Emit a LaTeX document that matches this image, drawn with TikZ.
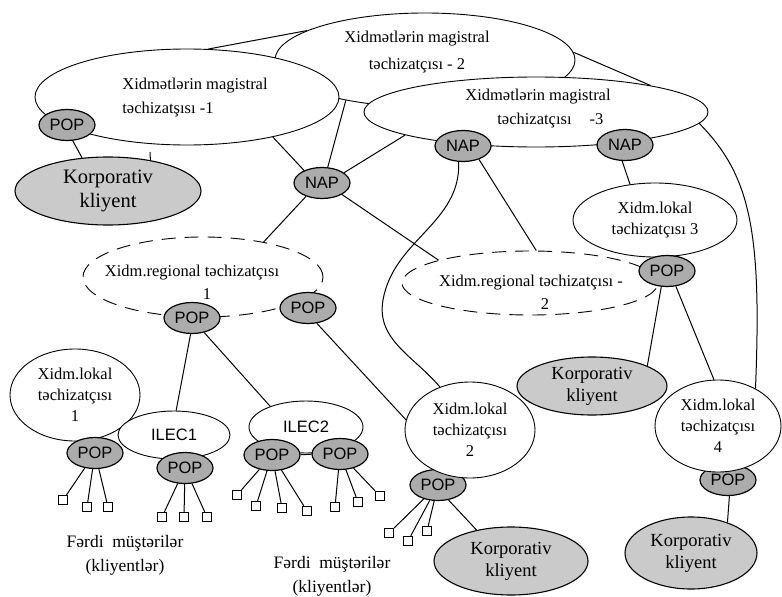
\documentclass[tikz,border=0pt]{standalone}
\usepackage{fontspec}
\setmainfont{Liberation Serif}
\setsansfont{Liberation Sans}
\usetikzlibrary{shapes.geometric, positioning}
\definecolor{popgray}{RGB}{172,172,172}
\definecolor{korpgray}{RGB}{202,202,202}
\tikzset{
  magistral/.style={ellipse, draw=black, line width=0.9pt, fill=white, inner sep=0pt},
  mtext/.style={font=\fontsize{16.5}{24}\selectfont},
  regional/.style={ellipse, draw=black, line width=0.9pt, fill=white, dash pattern=on 14pt off 9pt, inner sep=0pt},
  rtext/.style={align=center, font=\fontsize{16.5}{23}\selectfont},
  lokal/.style={ellipse, draw=black, line width=0.9pt, fill=white, inner sep=0pt, align=center, font=\fontsize{16.5}{21}\selectfont},
  korporativ/.style={ellipse, draw=black, line width=1.1pt, fill=korpgray, inner sep=0pt, align=center, font=\fontsize{18.5}{22}\selectfont},
  popnode/.style={ellipse, draw=black, line width=1.2pt, fill=popgray, minimum width=56pt, minimum height=31pt, inner sep=0pt, font=\sffamily\fontsize{16.5}{16.5}\selectfont},
  ilec/.style={ellipse, draw=black, line width=0.9pt, fill=white, inner sep=0pt, font=\sffamily\fontsize{16.5}{16.5}\selectfont},
  leaf/.style={rectangle, draw=black, line width=1.3pt, fill=white, minimum size=9pt, inner sep=0pt},
  link/.style={draw=black, line width=1pt},
  caption/.style={align=center, font=\fontsize{17.5}{24}\selectfont}
}
\begin{document}
\begin{tikzpicture}[x=1pt, y=-1pt]
\useasboundingbox (0,0) rectangle (782,597);

\node[magistral, minimum width=300pt, minimum height=94pt] (m2) at (425,60) {};
\node[mtext, align=center, font=\fontsize{16.5}{27}\selectfont] (m2txt) at (417,52) {Xidmətlərin magistral\\təchizatçısı - 2};
\node[magistral, minimum width=304pt, minimum height=96pt] (m1) at (187,97) {};
\node[mtext, align=left] (m1txt) at (195,98) {Xidmətlərin magistral\\təchizatşısı -1};
\node[magistral, minimum width=344pt, minimum height=70pt] (m3) at (536,112) {};
\node[mtext, align=left] (m3txt) at (538,109) {Xidmətlərin magistral\\\hspace*{32pt}təchizatçısı\hspace{18pt}-3};

\node[popnode] (popm1) at (67,125) {POP};
\node[popnode] (nap2) at (463,146) {NAP};
\node[popnode] (nap3) at (625,145) {NAP};
\node[korporativ, minimum width=186pt, minimum height=68pt, font=\fontsize{20.5}{24}\selectfont] (kor1) at (108,191) {Korporativ\\kliyent};
\node[popnode] (nap1) at (322,183) {NAP};

\node[regional, minimum width=240pt, minimum height=80pt] (reg1) at (203,277) {};
\node[rtext] (reg1txt) at (192,282) {Xidm.regional təchizatçısı\\\hspace*{30pt}1};
\node[popnode] (popr1) at (192,318) {POP};
\node[popnode] (popr1b) at (308,308) {POP};
\node[regional, minimum width=256pt, minimum height=64pt] (reg2) at (530,283) {};
\node[rtext] (reg2txt) at (531,292) {Xidm.regional təchizatçısı -\\\hspace*{28pt}2};

\node[lokal, minimum width=164pt, minimum height=74pt] (lok3) at (655,220) {Xidm.lokal\\təchizatçısı 3};
\node[popnode] (pop3) at (667,271) {POP};
\node[korporativ, minimum width=150pt, minimum height=58pt] (kor2) at (592,386) {Korporativ\\kliyent};
\node[popnode] (pop4) at (728,480) {POP};
\node[lokal, minimum width=126pt, minimum height=92pt] (lok4) at (718,426) {Xidm.lokal\\təchizatçısı\\4};
\node[korporativ, minimum width=132pt, minimum height=72pt] (kor4) at (691,553) {Korporativ\\kliyent};

\node[popnode] (popl2) at (438,485) {POP};
\node[lokal, minimum width=130pt, minimum height=96pt] (lok2) at (470,430) {Xidm.lokal\\təchizatçısı\\2};
\node[korporativ, minimum width=154pt, minimum height=68pt] (kor3) at (511,561) {Korporativ\\kliyent};

\node[lokal, minimum width=130pt, minimum height=92pt] (lok1) at (75,395) {Xidm.lokal\\təchizatçısı\\1};
\node[popnode] (popl1) at (95,453) {POP};
\node[ilec, minimum width=112pt, minimum height=48pt] (ilec1) at (174,435) {ILEC1};
\node[popnode] (popi1) at (185,468) {POP};
\node[ilec, minimum width=114pt, minimum height=52pt] (ilec2) at (306,427) {ILEC2};
\node[popnode] (popi2a) at (272,455) {POP};
\node[popnode] (popi2b) at (340,454) {POP};

\node[caption] (ferdi1) at (125,555) {Fərdi\ \ müştərilər\\(kliyentlər)};
\node[caption] (ferdi2) at (332,576) {Fərdi\ \ müştərilər\\(kliyentlər)};

\foreach \lx/\ly [count=\i] in {63/500, 87/507, 108/507} {
  \node[leaf] (lfa\i) at (\lx,\ly) {};
  \draw[link] (popl1) -- (lfa\i);
}
\foreach \lx/\ly [count=\i] in {162/517, 184/517, 207/517} {
  \node[leaf] (lfb\i) at (\lx,\ly) {};
  \draw[link] (popi1) -- (lfb\i);
}
\foreach \lx/\ly [count=\i] in {237/495, 256/506, 282/508, 307/511} {
  \node[leaf] (lfc\i) at (\lx,\ly) {};
  \draw[link] (popi2a) -- (lfc\i);
}
\foreach \lx/\ly [count=\i] in {335/507, 358/502, 380/496} {
  \node[leaf] (lfd\i) at (\lx,\ly) {};
  \draw[link] (popi2b) -- (lfd\i);
}
\foreach \lx/\ly [count=\i] in {389/533, 408/541, 427/531} {
  \node[leaf] (lfe\i) at (\lx,\ly) {};
  \draw[link] (popl2) -- (lfe\i);
}

\coordinate (stub) at (150,152);
\coordinate (bend2) at (383,300);

\draw[link] (m1.66) -- (m2.166);
\draw[link] (m2.3) -- (m3.13);
\draw[link] (nap1.145) -- (m1.-25);
\draw[link] (nap1.70) -- (m2.-153);
\draw[link] (nap1.25) -- (m3.-170);
\draw[link] (nap1.-140) -- (reg1.30);
\draw[link] (nap1.-30) -- (reg2.166);
\draw[link] (nap2.-105) to[out=-88, in=80] (bend2) to[out=-100, in=130] (lok2.125);
\draw[link] (nap2.-40) -- (reg2.79);
\draw[link] (nap3.-100) -- (lok3.125);
\draw[link] (m3.-4) .. controls (750,175) and (762,230) .. (lok4.45);
\draw[link] (pop3.-110) -- (kor2.20);
\draw[link] (pop3.-60) -- (lok4.95);
\draw[link] (pop4.-85) -- (kor4.40);
\draw[link] (popl2.-55) -- (kor3.138);
\draw[link] (popr1b.-60) -- (lok2.171);
\draw[link] (popr1.-95) -- (ilec1.85);
\draw[link] (popr1.-50) -- (ilec2.150);
\draw[link] (popm1.-70) -- (kor1.128);
\draw[link] (stub) -- (kor1.36);
\draw[link] (popi2a) -- (popi2b);

\end{tikzpicture}
\end{document}
